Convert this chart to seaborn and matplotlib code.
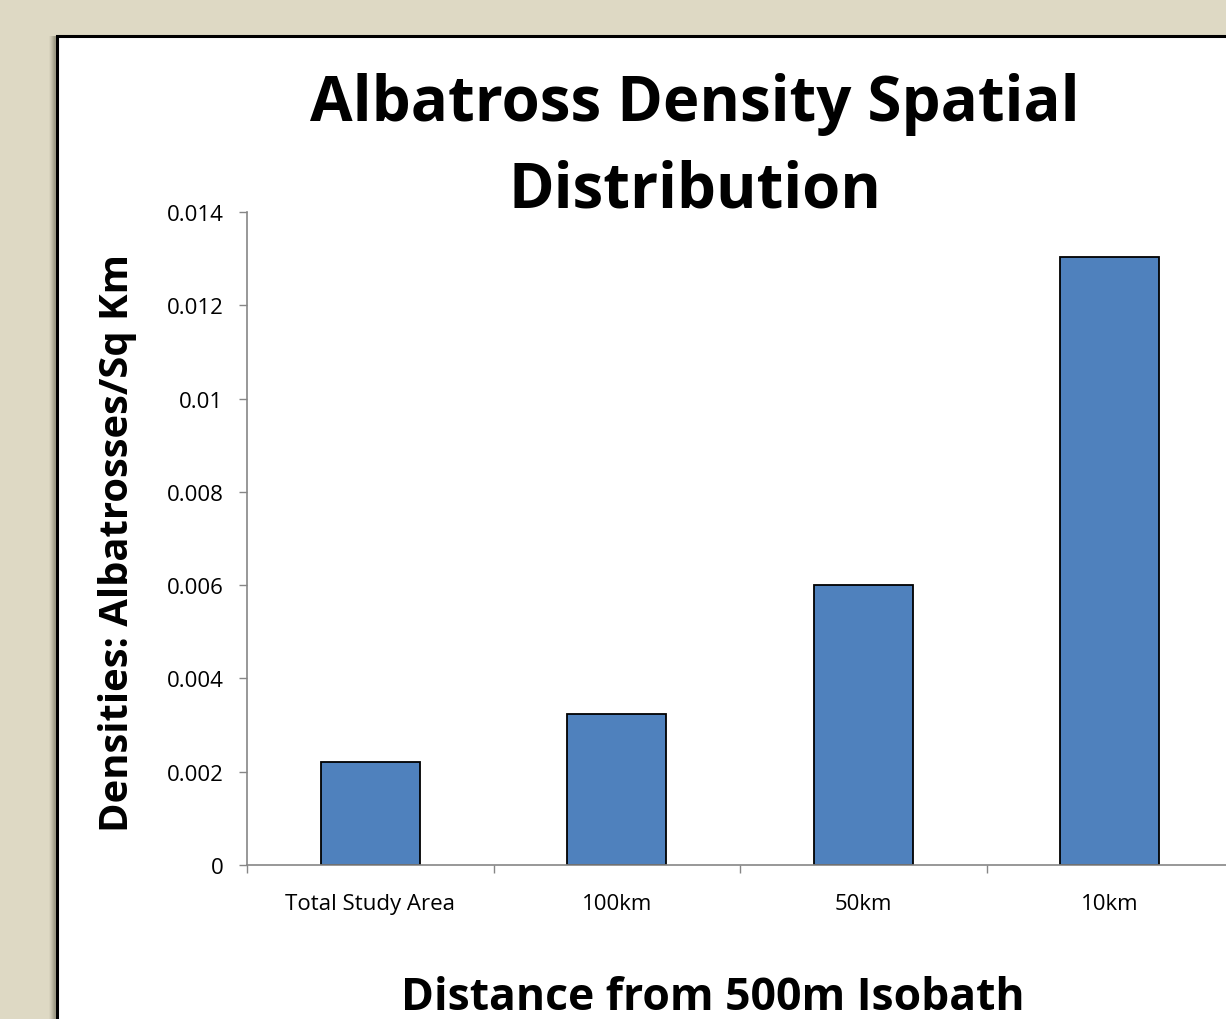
import matplotlib
matplotlib.use("Agg")
import matplotlib.pyplot as plt
import seaborn as sns
import pandas as pd
from matplotlib.patches import Rectangle

categories = ["Total Study Area", "100km", "50km", "10km"]
densities = [0.0022, 0.00323, 0.0060, 0.01304]
y_ticks = [0, 0.002, 0.004, 0.006, 0.008, 0.01, 0.012, 0.014]
y_tick_labels = ["0", "0.002", "0.004", "0.006", "0.008", "0.01", "0.012", "0.014"]

sns.set_theme(style="white")
plt.rcParams['font.family'] = ['Open Sans', 'DejaVu Sans']

W, H = 1226, 1020
fig = plt.figure(figsize=(W / 100, H / 100), dpi=100)
fig.patch.set_facecolor("#DED9C4")

def fx(px):
    return px / W

def fy(py):
    return 1 - py / H

# shadow of panel
for i, a in enumerate([0.10, 0.16, 0.22, 0.30, 0.38, 0.45]):
    off = 8 - i
    fig.patches.append(Rectangle((fx(57 - off), 0), 1.2, fy(37), transform=fig.transFigure,
                                 facecolor="#7a7660", alpha=a * 0.5, edgecolor="none", zorder=0))
# white panel
fig.patches.append(Rectangle((fx(57), -0.01), 1.2, fy(37) + 0.01, transform=fig.transFigure,
                             facecolor="white", edgecolor="black", linewidth=2.2, zorder=1))

ax = fig.add_axes([fx(247), fy(866), (1233 - 247) / W, (866 - 213) / H])
ax.set_facecolor("none")
ax.set_zorder(2)

df = pd.DataFrame({"Distance": categories, "Density": densities})
sns.barplot(data=df, x="Distance", y="Density", color="#4F81BD", saturation=1,
            edgecolor="black", linewidth=1.3, width=0.4, ax=ax)

ax.set_xlim(-0.5, 3.5)
ax.set_ylim(0, 0.014)
ax.set_yticks(y_ticks)
ax.set_yticklabels(y_tick_labels)
ax.set_xticks([0, 1, 2, 3])
ax.set_xticklabels(categories)
ax.set_xticks([-0.5, 0.5, 1.5, 2.5, 3.5], minor=True)
ax.tick_params(axis="x", which="major", length=0, pad=20, labelsize=16, labelcolor="black")
ax.tick_params(axis="x", which="minor", length=6, width=1, color="#868686", direction="out", bottom=True)
ax.tick_params(axis="y", length=6, width=1, color="#868686", direction="out", left=True, pad=11,
               labelsize=16, labelcolor="black")
for s in ["top", "right"]:
    ax.spines[s].set_visible(False)
for s in ["left", "bottom"]:
    ax.spines[s].set_color("#868686")
    ax.spines[s].set_linewidth(1.2)
ax.set_xlabel("")
ax.set_ylabel("")

fig.text(fx(695), fy(104), "Albatross Density Spatial", ha="center", va="center",
         fontsize=44.5, fontweight="bold", color="black", zorder=3)
fig.text(fx(695), fy(191), "Distribution", ha="center", va="center",
         fontsize=44.5, fontweight="bold", color="black", zorder=3)
fig.text(fx(118), fy(543), "Densities: Albatrosses/Sq Km", ha="center", va="center", rotation=90,
         fontsize=28.8, fontweight="bold", color="black", zorder=3)
fig.text(fx(713), fy(999), "Distance from 500m Isobath", ha="center", va="center",
         fontsize=32, fontweight="bold", color="black", zorder=3)

fig.savefig("out.png", dpi=100, facecolor=fig.get_facecolor())
